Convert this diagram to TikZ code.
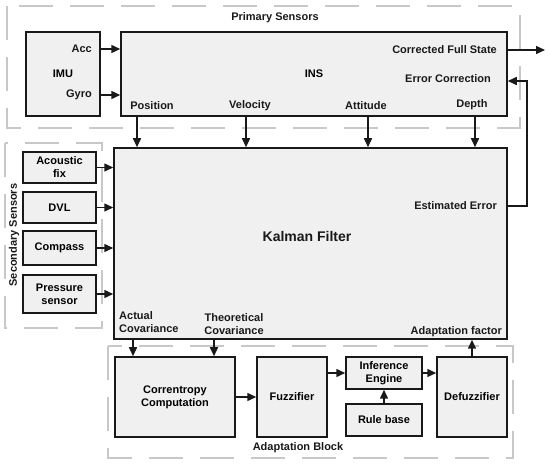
\documentclass[tikz,border=0pt]{standalone}
\usepackage{fontspec}
\setmainfont{Liberation Sans}
\usetikzlibrary{arrows.meta, positioning}

\definecolor{boxgray}{RGB}{240,240,240}
\definecolor{dashgray}{RGB}{200,200,200}
\definecolor{ink}{RGB}{25,25,25}

\begin{document}
\begin{tikzpicture}[
  x=1pt, y=-1pt,
  box/.style={draw=ink, line width=1.5pt, fill=boxgray, align=center, inner sep=0pt,
              font=\bfseries\fontsize{11}{13}\selectfont},
  grp/.style={draw=dashgray, line width=1.7pt, dash pattern=on 34pt off 17pt},
  arr/.style={-{Triangle[length=9pt, width=8pt]}, line width=1.5pt, draw=ink},
  lbl/.style={font=\bfseries\fontsize{11}{13}\selectfont, inner sep=1pt, text=ink}
]
  \useasboundingbox (0,0) rectangle (550,465);

  % dashed groups
  \draw[grp] (7,6) rectangle (520,128);
  \draw[grp] (5,143) rectangle (102,328);
  \draw[grp] (108,346) rectangle (513,458);
  \node[lbl] (prim) at (275,18) {Primary Sensors};
  \node[lbl, rotate=90] (sec) at (14,235) {Secondary Sensors};
  \node[lbl] (adap) at (298,448) {Adaptation Block};

  % primary sensors
  \node[box, minimum width=74pt, minimum height=84pt] (imu) at (63,74) {IMU};
  \node[box, minimum width=386pt, minimum height=84pt] (ins) at (314,74) {INS};
  \node[lbl, anchor=east] (acc) at (93,49) {Acc};
  \node[lbl, anchor=east] (gyro) at (93,95) {Gyro};
  \node[lbl] (pos) at (152,106) {Position};
  \node[lbl] (vel) at (250,106) {Velocity};
  \node[lbl] (att) at (366,106) {Attitude};
  \node[lbl] (dep) at (472,105) {Depth};
  \node[lbl, anchor=east] (cfs) at (498,50) {Corrected Full State};
  \node[lbl, anchor=east] (ecor) at (492,79) {Error Correction};

  % kalman filter
  \node[box, minimum width=393pt, minimum height=191pt] (kf) at (310.5,243.5) {};
  \node[lbl, font=\bfseries\fontsize{14}{16}\selectfont] (kflbl) at (307,236) {Kalman Filter};
  \node[lbl, anchor=east] (est) at (498,206) {Estimated Error};
  \node[lbl, anchor=east] (afac) at (503,332) {Adaptation factor};
  \node[lbl, anchor=west, align=left] (acov) at (118,322.5) {Actual\\Covariance};
  \node[lbl, align=center] (tcov) at (234,324) {Theoretical\\Covariance};

  % secondary sensors
  \node[box, minimum width=73pt, minimum height=31pt] (acou) at (59.5,167.5) {Acoustic\\fix};
  \node[box, minimum width=73pt, minimum height=31pt] (dvl)  at (59.5,207.5) {DVL};
  \node[box, minimum width=73pt, minimum height=34pt] (comp) at (59.5,248) {Compass};
  \node[box, minimum width=73pt, minimum height=38pt] (pres) at (59.5,294) {Pressure\\sensor};

  % adaptation block
  \node[box, minimum width=120pt, minimum height=80pt] (corr) at (175,397) {Correntropy\\Computation};
  \node[box, minimum width=70pt, minimum height=80pt] (fuzz) at (292,397) {Fuzzifier};
  \node[box, minimum width=76pt, minimum height=32pt] (inf) at (384,373) {Inference\\Engine};
  \node[box, minimum width=76pt, minimum height=32pt] (rule) at (384,420) {Rule base};
  \node[box, minimum width=70pt, minimum height=80pt] (defz) at (472,397) {Defuzzifier};

  \coordinate (out) at (545,50);
  \coordinate (fbk) at (527,81);

  % connectors
  \draw[arr] (imu.east |- acc) -- (ins.west |- acc);
  \draw[arr] (imu.east |- gyro) -- (ins.west |- gyro);
  \draw[arr] (ins.east |- out) -- (out);
  \draw[arr] (kf.east |- est) -| (fbk) -- (ins.east |- fbk);
  \foreach \x in {137,246,368,475}
    \draw[arr] (ins.south -| \x,0) -- (kf.north -| \x,0);
  \foreach \s in {acou,dvl,comp,pres}
    \draw[arr] (\s.east) -- (\s.east -| kf.west);
  \draw[arr] (kf.south -| 133,0) -- (corr.north -| 133,0);
  \draw[arr] (kf.south -| 214,0) -- (corr.north -| 214,0);
  \draw[arr] (corr) -- (fuzz);
  \draw[arr] (fuzz.east |- inf) -- (inf.west);
  \draw[arr] (inf.east) -- (defz.west |- inf);
  \draw[arr] (rule) -- (inf);
  \draw[arr] (defz.north) -- (defz.north |- kf.south);
\end{tikzpicture}
\end{document}
